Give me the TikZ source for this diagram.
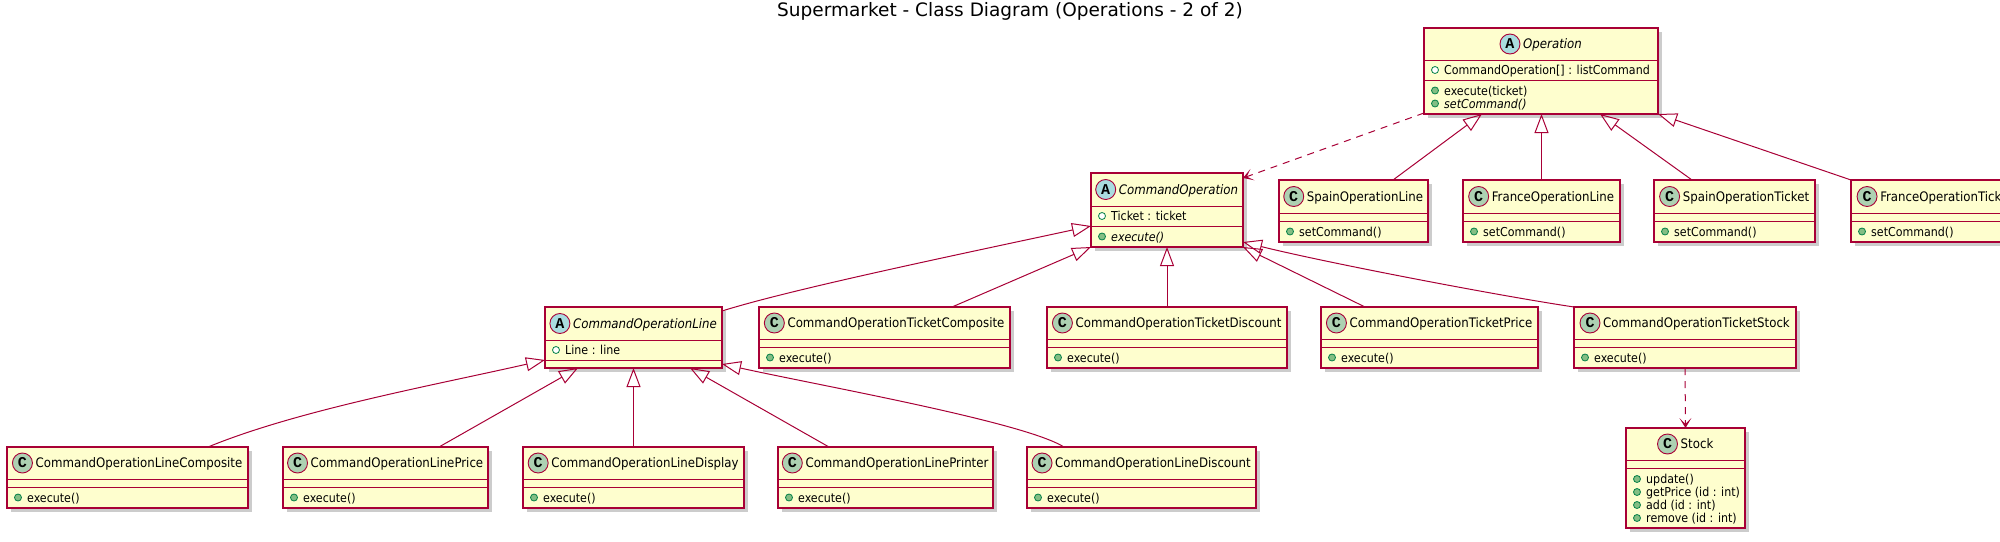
\documentclass[tikz,border=0pt]{standalone}
\usepackage{fontspec}
\setmainfont{DejaVu Sans}
\newfontfamily\umlcond{DejaVu Sans Condensed}
\newfontfamily\umlmono{Liberation Mono}
\usetikzlibrary{arrows.meta,calc}
\definecolor{umlborder}{HTML}{A80036}
\definecolor{umlfill}{HTML}{FEFECE}
\definecolor{circC}{HTML}{ADD1B2}
\definecolor{circA}{HTML}{A9DCDF}
\definecolor{icongreen}{HTML}{038048}
\definecolor{iconfill}{HTML}{84BE84}
\tikzset{
  umlbox/.style={draw=umlborder, fill=umlfill, line width=1.1pt, inner sep=0pt, outer sep=0pt, anchor=north west},
  umlshadow/.style={fill=black, opacity=0.2},
  umldiv/.style={draw=umlborder, line width=1pt},
  nameC/.style={inner sep=0pt, font=\umlcond\fontsize{13.1}{15}\selectfont, text height=9.5pt, text depth=0pt},
  nameA/.style={nameC, font=\umlcond\itshape\fontsize{13.1}{15}\selectfont},
  umlcircle/.style={circle, draw=umlborder, line width=0.9pt, minimum size=20pt, inner sep=0pt, font=\umlmono\bfseries\fontsize{15}{15}\selectfont},
  kindC/.style={umlcircle, fill=circC},
  kindA/.style={umlcircle, fill=circA},
  umlmem/.style={inner sep=0pt, anchor=west, font=\umlcond\fontsize{12.3}{14}\selectfont, text height=9pt, text depth=0pt},
  fieldicon/.style={circle, draw=icongreen, fill=white, line width=0.8pt, minimum size=7pt, inner sep=0pt},
  methicon/.style={circle, draw=icongreen, fill=iconfill, line width=0.8pt, minimum size=7pt, inner sep=0pt},
  inherit/.style={draw=umlborder, line width=1pt, -{Triangle[open, length=19pt, width=14pt, line width=1pt]}},
  depend/.style={draw=umlborder, line width=1pt, dash pattern=on 7pt off 6pt, -{Stealth[length=10pt, width=12pt, inset=6pt]}},
  titletext/.style={font=\fontsize{18.5}{22}\selectfont, inner sep=0pt},
}
% #1 id, #2 x, #3 y, #4 width, #5 header h, #6 attr h, #7 method h, #8 kind (A/C), #9 name
\newcommand\UMLclass[9]{%
  \pgfmathsetmacro\umlH{#5+#6+#7}%
  \fill[umlshadow] (#2+3.5,#3+3.5) rectangle ++(#4,\umlH);
  \node[umlbox, minimum width=#4pt, minimum height=\umlH pt] (#1) at (#2,#3) {};
  \draw[umldiv] (#2,#3+#5) -- ++(#4,0);
  \draw[umldiv] (#2,#3+#5+#6) -- ++(#4,0);
  \node[name#8] (#1-n) at (#2+#4/2+11.5,#3+#5/2) {#9};
  \node[kind#8] (#1-c) at ([xshift=-13pt]#1-n.west) {#8};
}
% #1 member id, #2 class id, #3 dy from top, #4 icon kind (field/meth), #5 text
\newcommand\UMLmem[5]{%
  \node[#4icon] (#1-i) at ($(#2.north west)+(11,#3)$) {};
  \node[umlmem] (#1) at ($(#2.north west)+(20,#3)$) {#5};
}
\begin{document}
\begin{tikzpicture}[x=1pt,y=-1pt]
\useasboundingbox (0,0) rectangle (2000,541);
\clip (0,0) rectangle (2000,541);
\node[titletext] (title) at (1010,11) {Supermarket - Class Diagram (Operations - 2 of 2)};

% classes
\UMLclass{op}{1424}{28}{234}{32}{20}{34}{A}{Operation}
\UMLmem{op-a1}{op}{42}{field}{CommandOperation[] : listCommand}
\UMLmem{op-m1}{op}{62.5}{meth}{execute(ticket)}
\UMLmem{op-m2}{op}{75.5}{meth}{\itshape setCommand()}

\UMLclass{cmdop}{1091}{173}{152}{33}{20}{21}{A}{CommandOperation}
\UMLmem{cmdop-a1}{cmdop}{43}{field}{Ticket : ticket}
\UMLmem{cmdop-m1}{cmdop}{63.5}{meth}{\itshape execute()}

\UMLclass{spainline}{1279}{180}{149}{33}{8}{21}{C}{SpainOperationLine}
\UMLmem{spainline-m1}{spainline}{51.5}{meth}{setCommand()}
\UMLclass{franceline}{1463}{180}{157}{33}{8}{21}{C}{FranceOperationLine}
\UMLmem{franceline-m1}{franceline}{51.5}{meth}{setCommand()}
\UMLclass{spainticket}{1654}{180}{161}{33}{8}{21}{C}{SpainOperationTicket}
\UMLmem{spainticket-m1}{spainticket}{51.5}{meth}{setCommand()}
\UMLclass{franceticket}{1851}{180}{168}{33}{8}{21}{C}{FranceOperationTicket}
\UMLmem{franceticket-m1}{franceticket}{51.5}{meth}{setCommand()}

\UMLclass{cline}{545}{307}{177}{33}{20}{8}{A}{CommandOperationLine}
\UMLmem{cline-a1}{cline}{43}{field}{Line : line}
\UMLclass{tcomp}{759}{307}{251}{32}{8}{21}{C}{CommandOperationTicketComposite}
\UMLmem{tcomp-m1}{tcomp}{50.5}{meth}{execute()}
\UMLclass{tdisc}{1047}{307}{240}{32}{8}{21}{C}{CommandOperationTicketDiscount}
\UMLmem{tdisc-m1}{tdisc}{50.5}{meth}{execute()}
\UMLclass{tprice}{1321}{307}{217}{32}{8}{21}{C}{CommandOperationTicketPrice}
\UMLmem{tprice-m1}{tprice}{50.5}{meth}{execute()}
\UMLclass{tstock}{1574}{307}{222}{32}{8}{21}{C}{CommandOperationTicketStock}
\UMLmem{tstock-m1}{tstock}{50.5}{meth}{execute()}

\UMLclass{lcomp}{7}{447}{241}{32}{8}{21}{C}{CommandOperationLineComposite}
\UMLmem{lcomp-m1}{lcomp}{50.5}{meth}{execute()}
\UMLclass{lprice}{283}{447}{205}{32}{8}{21}{C}{CommandOperationLinePrice}
\UMLmem{lprice-m1}{lprice}{50.5}{meth}{execute()}
\UMLclass{ldisp}{523}{447}{221}{32}{8}{21}{C}{CommandOperationLineDisplay}
\UMLmem{ldisp-m1}{ldisp}{50.5}{meth}{execute()}
\UMLclass{lprint}{778}{447}{215}{32}{8}{21}{C}{CommandOperationLinePrinter}
\UMLmem{lprint-m1}{lprint}{50.5}{meth}{execute()}
\UMLclass{ldisc}{1027}{447}{229}{32}{8}{21}{C}{CommandOperationLineDiscount}
\UMLmem{ldisc-m1}{ldisc}{50.5}{meth}{execute()}

\UMLclass{stock}{1626}{428}{119}{32}{8}{60}{C}{Stock}
\UMLmem{stock-m1}{stock}{51}{meth}{update()}
\UMLmem{stock-m2}{stock}{64}{meth}{getPrice (id : int)}
\UMLmem{stock-m3}{stock}{77}{meth}{add (id : int)}
\UMLmem{stock-m4}{stock}{90}{meth}{remove (id : int)}

% connectors
\draw[depend] ([yshift=1pt]op.south west) -- ([yshift=-5pt]cmdop.north east);
\draw[inherit] ([xshift=114pt]spainline.north west) -- ([xshift=58pt]op.south west);
\draw[inherit] (franceline.north) -- (franceline.north |- op.south);
\draw[inherit] ([xshift=38pt]spainticket.north west) -- ([xshift=-58pt]op.south east);
\draw[inherit] (franceticket.north west) -- (op.south east);

\draw[inherit] ([yshift=-4pt]cline.north east) .. controls +(70,-22) and +(-130,28) .. ([yshift=-16pt]cmdop.west);
\draw[inherit] ([xshift=193pt]tcomp.north west) -- (cmdop.south west);
\draw[inherit] (tdisc.north) -- (tdisc.north |- cmdop.south);
\draw[inherit] ([xshift=44pt]tprice.north west) -- (cmdop.south east);
\draw[inherit] (tstock.north west) .. controls +(-80,-12) and +(80,20) .. ([yshift=5pt]cmdop.south east);

\draw[inherit] ([xshift=201pt]lcomp.north west) .. controls +(90,-37) and +(-110,25) .. ([yshift=8pt]cline.south west);
\draw[inherit] ([xshift=156pt]lprice.north west) -- ([xshift=33pt]cline.south west);
\draw[inherit] (ldisp.north) -- (ldisp.north |- cline.south);
\draw[inherit] ([xshift=51pt]lprint.north west) -- ([xshift=-32pt]cline.south east);
\draw[inherit] ([xshift=37pt]ldisc.north west) .. controls +(-40,-25) and +(100,22) .. ([yshift=4pt]cline.south east);

\draw[depend] (tstock.south) -- (stock.north);
\end{tikzpicture}
\end{document}
